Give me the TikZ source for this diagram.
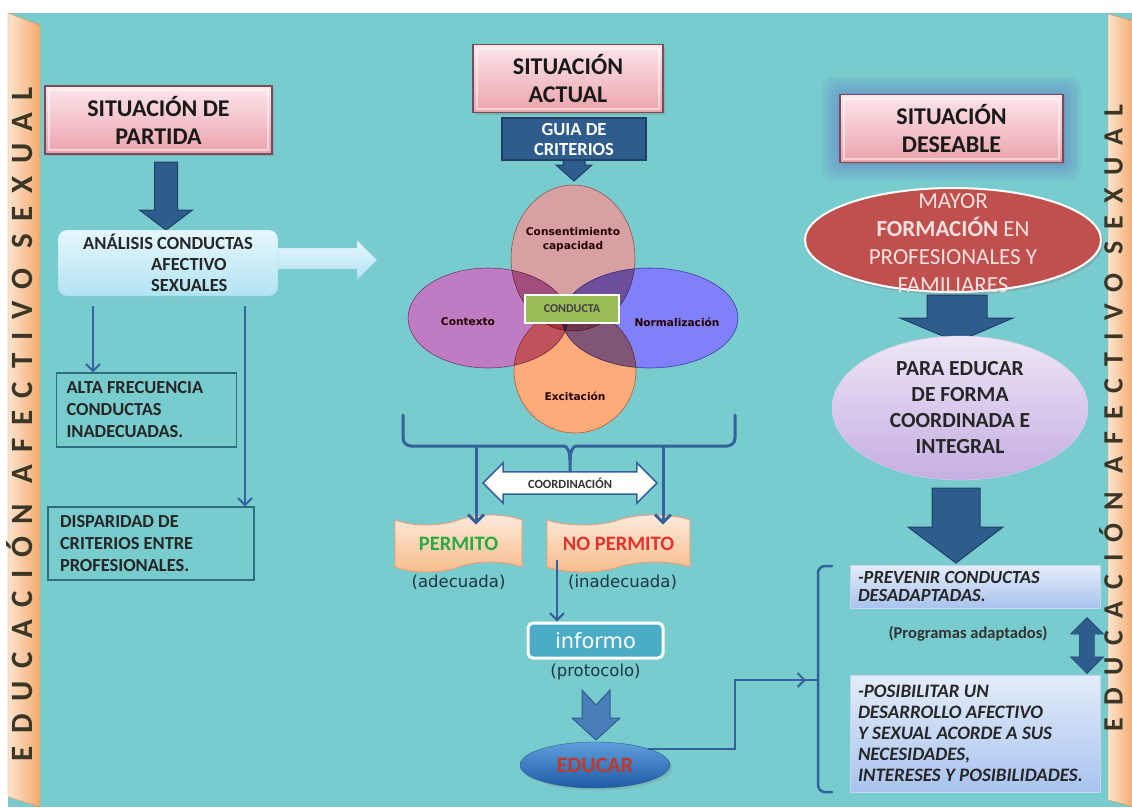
\documentclass[tikz,border=0pt]{standalone}
\usepackage{fontspec}
\setmainfont{Carlito}
\newfontfamily\verdana{DejaVu Sans}
\usepackage{tikz}
\usetikzlibrary{positioning,shapes.geometric,shapes.arrows,shapes.symbols,shadows,arrows.meta}

\definecolor{fondo}{HTML}{78CCCE}
\definecolor{azul}{HTML}{2E5C8C}
\definecolor{azuloscuro}{HTML}{1F3F66}
\definecolor{linea}{HTML}{33629C}
\definecolor{bandaclara}{HTML}{FDE4CF}
\definecolor{bandaoscura}{HTML}{F4AA6C}
\definecolor{letra}{HTML}{3B3625}
\definecolor{rosaclaro}{HTML}{FCE6EA}
\definecolor{rosa}{HTML}{EBA2AC}
\definecolor{marco}{HTML}{7A4B5C}
\definecolor{celeste}{HTML}{E6F8FD}
\definecolor{celesteos}{HTML}{B2E3F3}
\definecolor{bordecel}{HTML}{9BD0E2}
\definecolor{cajaborde}{HTML}{2B6F80}
\definecolor{colcons}{HTML}{D8A0A2}
\definecolor{colctx}{HTML}{C07CC2}
\definecolor{colnorm}{HTML}{8080F8}
\definecolor{colexci}{HTML}{FFAA7A}
\definecolor{verde}{HTML}{9BBB59}
\definecolor{melocoton}{HTML}{FDEBDC}
\definecolor{naranja}{HTML}{F8BC8A}
\definecolor{verdetexto}{HTML}{2AA845}
\definecolor{rojotexto}{HTML}{E5322D}
\definecolor{turquesa}{HTML}{4BACC6}
\definecolor{textonota}{HTML}{1F3545}
\definecolor{azulmedio}{HTML}{4A7EBB}
\definecolor{bolaclara}{HTML}{5FA0DC}
\definecolor{bolaoscura}{HTML}{1E5AA6}
\definecolor{granate}{HTML}{C0392B}
\definecolor{rojo}{HTML}{C0504D}
\definecolor{rosatexto}{HTML}{F7E1E0}
\definecolor{lilaclaro}{HTML}{EEE6F6}
\definecolor{lila}{HTML}{C4AEE2}
\definecolor{azulclaro}{HTML}{E3ECFA}
\definecolor{azulcaja}{HTML}{A9C3EE}
\definecolor{brillo}{HTML}{5A5AC8}

\begin{document}
\begin{tikzpicture}[x=1pt,y=-1pt,
  titulo/.style={rectangle, draw=marco, line width=1.6pt, top color=rosaclaro, bottom color=rosa,
    minimum width=#1, minimum height=68pt, inner sep=0pt, align=flush center, text=black!90,
    font=\bfseries\fontsize{24}{28}\selectfont,
    drop shadow={opacity=.3, shadow xshift=1.5pt, shadow yshift=-2pt},
    path picture={\draw[white, opacity=.5, line width=2pt]
      ([shift={(4pt,-4pt)}]path picture bounding box.north west) rectangle
      ([shift={(-4pt,4pt)}]path picture bounding box.south east);}},
  caja/.style={rectangle, draw=cajaborde, line width=1.2pt, align=flush left, inner ysep=0pt,
    font=\bfseries\fontsize{18.4}{22}\selectfont, text=black!85},
  fina/.style={draw=linea, line width=2pt, -{Straight Barb[length=7pt,width=14pt]}},
  llave/.style={draw=linea, line width=3pt, line cap=round},
  bloque/.style={fill=azul, draw=azuloscuro, line width=1pt},
  venn/.style={ellipse, inner sep=0pt, line width=.6pt},
  etiqueta/.style={font=\verdana\bfseries\fontsize{10.6}{14}\selectfont, text=black!85!red, align=flush center},
  cinta/.style={tape, draw=naranja!80!red, line width=.8pt, top color=melocoton, bottom color=naranja,
    minimum height=57pt, tape bend height=10pt, inner sep=0pt, font=\bfseries\fontsize{20.5}{24}\selectfont},
  nota/.style={font=\verdana\fontsize{16.5}{20}\selectfont, text=textonota},
  banda/.style 2 args={rotate=90, text=letra,
    font=\bfseries\fontsize{#1}{#1}\selectfont\addfontfeature{LetterSpace=#2}},
  meta/.style={rectangle, draw=azulcaja!70!white, line width=.8pt, top color=azulclaro, bottom color=azulcaja,
    text width=234pt, inner xsep=8pt, align=flush left, text=black!85}]

\useasboundingbox (0,0) rectangle (1132,807);
\fill[white] (0,0) rectangle (1132,807);
\fill[fondo] (8,13) rectangle (1132,807);

% bandas laterales
\shadedraw[left color=bandaclara, right color=bandaoscura, draw=bandaoscura!85!black]
  (8,13) -- (40,25) -- (40,807) -- (8,797) -- cycle;
\shadedraw[left color=bandaclara, right color=bandaoscura, draw=bandaoscura!85!black]
  (1108,14) -- (1134,21) -- (1134,807) -- (1108,800) -- cycle;
\node[banda={31}{41}] (bandaizq) at (20,424) {EDUCACIÓN AFECTIVO SEXUAL};
\node[banda={28}{44}] (bandader) at (1111,418) {EDUCACIÓN AFECTIVO SEXUAL};

% situacion de partida
\node[titulo=227pt] (partida) at (158.5,120) {SITUACIÓN DE\\PARTIDA};
\filldraw[bloque] (154.5,162) -- (177.5,162) -- (177.5,210) -- (192.5,210) -- (166,230) -- (139.5,210) -- (154.5,210) -- cycle;
\shadedraw[top color=celeste, bottom color=celesteos, draw=bordecel]
  (270,248) -- (357,248) -- (357,240) -- (377,260) -- (357,280) -- (357,269) -- (270,269) -- cycle;
\node[rectangle, rounded corners=9pt, draw=bordecel, top color=celeste, bottom color=celesteos,
  minimum width=220pt, minimum height=66pt, align=flush left, text=black!85,
  font=\bfseries\fontsize{18.5}{21}\selectfont]
  (analisis) at (168,263) {ANÁLISIS CONDUCTAS\\\hspace*{68pt}AFECTIVO\\\hspace*{68pt}SEXUALES};
\node[caja, text width=160pt, inner xsep=10pt, minimum height=74pt] (alta) at (146.5,410)
  {ALTA FRECUENCIA\\CONDUCTAS\\INADECUADAS.};
\node[caja, text width=182pt, inner xsep=12pt, minimum height=73pt] (dispar) at (151,543.5)
  {DISPARIDAD DE\\CRITERIOS ENTRE\\PROFESIONALES.};
\draw[fina, shorten <=10pt] ([xshift=-75pt]analisis.south) -- ([xshift=-53.5pt]alta.north);
\draw[fina, shorten <=10pt] ([xshift=77pt]analisis.south) -- ([xshift=94pt]dispar.north);

% situacion actual
\node[titulo=190pt] (actual) at (568,78.5) {SITUACIÓN\\ACTUAL};
\filldraw[bloque] (563,158) -- (585,158) -- (585,165) -- (592,165) -- (574,181) -- (556,165) -- (563,165) -- cycle;
\node[rectangle, fill=azul, draw=azuloscuro, line width=2pt, minimum width=144pt, minimum height=42pt,
  inner sep=0pt, align=flush center, text=white, font=\bfseries\fontsize{18.5}{20}\selectfont]
  (guia) at (574,139) {GUIA DE\\CRITERIOS};

\begin{scope}[blend group=multiply]
  \node[venn, fill=colcons, draw=colcons!70!black, minimum width=124pt, minimum height=146pt] (consent) at (573,258) {};
  \node[venn, fill=colctx, draw=colctx!70!black, minimum width=160pt, minimum height=100pt] (contexto) at (488,318) {};
  \node[venn, fill=colnorm, draw=colnorm!70!black, minimum width=176pt, minimum height=100pt] (normal) at (650,318) {};
  \node[venn, fill=colexci, draw=colexci!70!black, minimum width=122pt, minimum height=124pt] (excita) at (575,371) {};
\end{scope}
\node[etiqueta] (lcons) at ([yshift=18pt]consent.center) {Consentimiento\\capacidad};
\node[etiqueta] (lctx) at ([xshift=-20pt,yshift=-4pt]contexto.center) {Contexto};
\node[etiqueta] (lnorm) at ([xshift=27pt,yshift=-4pt]normal.center) {Normalización};
\node[etiqueta] (lexci) at ([yshift=-25pt]excita.center) {Excitación};
\node[rectangle, fill=verde, draw=white, line width=2pt, minimum width=94pt, minimum height=28pt, inner sep=0pt,
  font=\bfseries\fontsize{12}{14}\selectfont, text=black!75] (conducta) at (572,309) {CONDUCTA};

\node[double arrow, draw=linea, line width=1.5pt, fill=white, minimum height=174pt, double arrow head extend=9pt,
  inner xsep=4pt, inner ysep=5pt, font=\bfseries\fontsize{12.5}{14}\selectfont, text=black!80]
  (coordinacion) at (570,483) {COORDINACIÓN};
\node[cinta, minimum width=127pt, text=verdetexto] (permito) at (458.5,543.5) {PERMITO};
\node[cinta, minimum width=143pt, text=rojotexto] (nopermito) at (618.5,543.5) {NO PERMITO};
\node[nota, below=4pt of permito] (adecuada) {(adecuada)};
\node[nota, below=4pt of nopermito, xshift=4pt] (inadecuada) {(inadecuada)};

\coordinate (llaveI) at (476,446);
\coordinate (llaveD) at (663,446);
\draw[llave, rounded corners=8pt] (403,415) -- (403,446) -- (556,446) .. controls (566,446) and (570,450) .. (570,460);
\draw[llave, rounded corners=8pt] (735,415) -- (735,446) -- (584,446) .. controls (574,446) and (570,450) .. (570,460);
\draw[llave] (570,458) -- (coordinacion.north);
\draw[llave, line cap=butt, -{Straight Barb[length=8pt,width=16pt]}] (llaveI) -- ([xshift=17.5pt,yshift=-5pt]permito.north);
\draw[llave, line cap=butt, -{Straight Barb[length=8pt,width=16pt]}] (llaveD) -- ([xshift=44.5pt,yshift=-5pt]nopermito.north);

\node[rectangle, rounded corners=5pt, fill=turquesa, draw=white, line width=3pt, minimum width=135pt,
  minimum height=35pt, inner sep=0pt, text=white, font=\verdana\fontsize{21}{24}\selectfont]
  (informo) at (595.5,640.5) {informo};
\draw[fina] ([xshift=-61.5pt,yshift=7pt]nopermito.south) -- ([xshift=-38.5pt]informo.north);
\node[nota, below=1pt of informo] (protocolo) {(protocolo)};
\filldraw[fill=azulmedio, draw=azul, line width=1pt]
  (582,690) -- (596,705) -- (610,690) -- (610,718) -- (620,718) -- (596,740) -- (572,718) -- (582,718) -- cycle;
\node[ellipse, top color=bolaclara, bottom color=bolaoscura, draw=azul, minimum width=150pt, minimum height=46pt,
  inner sep=0pt, text=granate, font=\bfseries\fontsize{22}{24}\selectfont, drop shadow={opacity=.25}]
  (educar) at (595,765) {EDUCAR};

% situacion deseable
\coordinate (llaveR) at (806,680);
\draw[fina] (educar.north east) -- ++(87,0) |- (llaveR);
\draw[llave, line width=2.5pt, rounded corners=7pt] (832,566) -- (818,566) -- (818,792) -- (832,792);
\draw[llave, line width=2.5pt] (818,680) -- (llaveR);

\foreach \g in {18,15,12,9,6,3}
  \fill[brillo, opacity=.07, rounded corners=10pt] (840-\g,95-\g) rectangle (1063+\g,162+\g);
\node[titulo=223pt] (deseable) at (951.5,128.5) {SITUACIÓN\\DESEABLE};
\node[ellipse, fill=rojo, draw=white, line width=2pt, minimum width=296pt, minimum height=104pt,
  drop shadow={opacity=.35, shadow yshift=-3pt}] (mayor) at (953,240) {};
\node[align=flush center, text=rosatexto, font=\fontsize{23}{28}\selectfont] (mayortexto) at (953,243)
  {MAYOR\\\textbf{FORMACIÓN} EN\\PROFESIONALES Y\\FAMILIARES};
\filldraw[bloque] (927,295) -- (987,295) -- (987,318) -- (1013,318) -- (957,342) -- (900,318) -- (927,318) -- cycle;
\node[ellipse, top color=lilaclaro, bottom color=lila, draw=lila!60!white, minimum width=256pt, minimum height=144pt,
  inner sep=0pt, align=flush center, text=black!85, font=\bfseries\fontsize{21.5}{26}\selectfont]
  (integral) at (960,408) {PARA EDUCAR\\DE FORMA\\COORDINADA E\\INTEGRAL};
\filldraw[bloque] (932,488) -- (980,488) -- (980,527) -- (1003,527) -- (956,563) -- (908,527) -- (932,527) -- cycle;
\node[meta, minimum height=43pt, font=\bfseries\itshape\fontsize{18.5}{18}\selectfont] (prevenir) at (975,586.5)
  {-PREVENIR CONDUCTAS\\DESADAPTADAS.};
\node[meta, minimum height=117pt, font=\bfseries\itshape\fontsize{19}{21}\selectfont] (posibilitar) at (975,733.5)
  {-POSIBILITAR UN\\DESARROLLO AFECTIVO\\Y SEXUAL ACORDE A SUS\\NECESIDADES,\\INTERESES Y POSIBILIDADES.};
\node[font=\bfseries\fontsize{16.5}{18}\selectfont, text=black!80] (programas) at (968,634) {(Programas adaptados)};
\node[double arrow, shape border rotate=90, fill=azul, draw=azuloscuro, minimum height=56pt, minimum width=33pt,
  double arrow head extend=9pt, inner sep=7.5pt] (enlace) at (1087,645.5) {};
\end{tikzpicture}
\end{document}
